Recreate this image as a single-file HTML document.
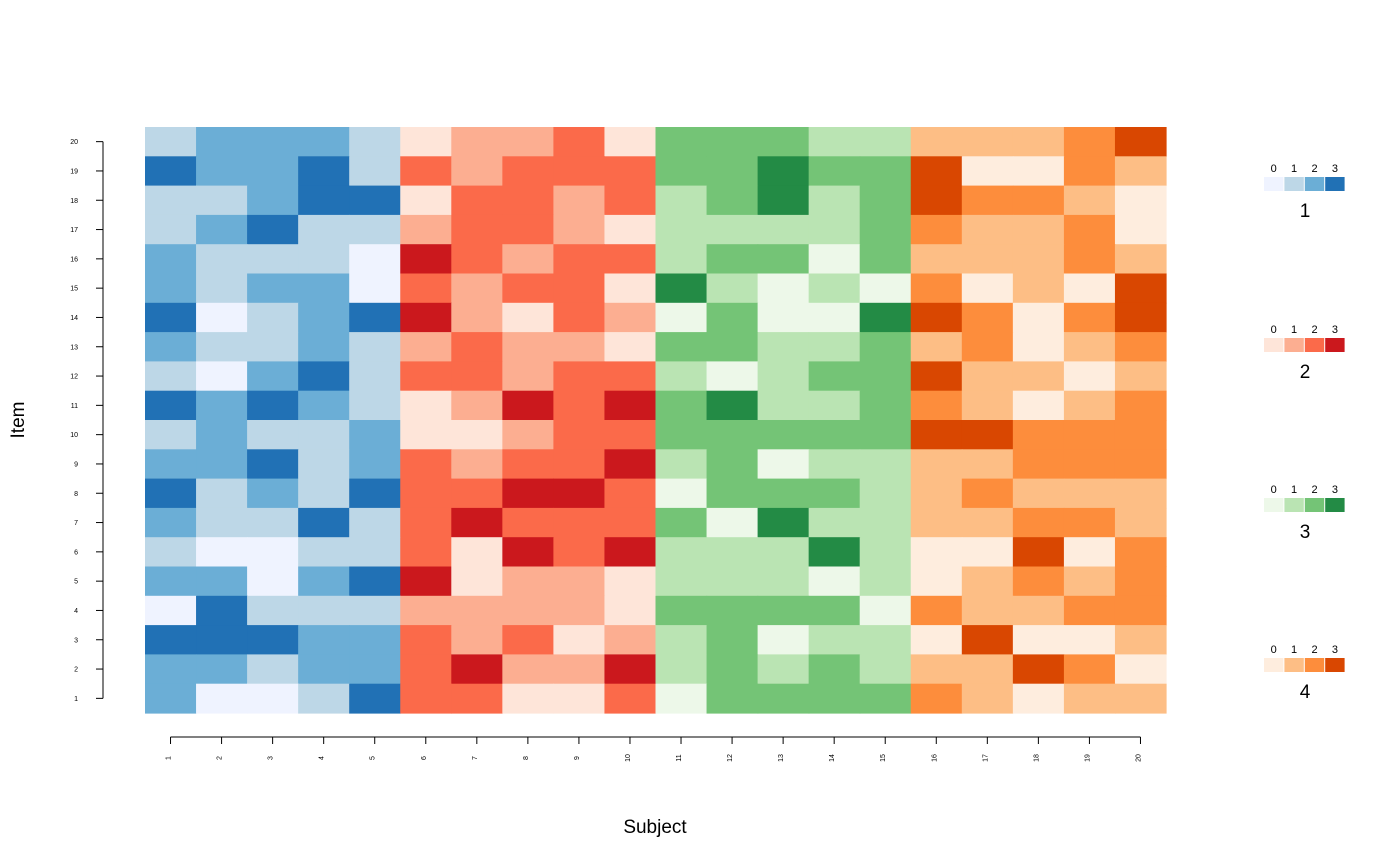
<!DOCTYPE html>
<html><head><meta charset="utf-8"><style>
body{margin:0;background:#fff}
svg{display:block;font-family:"Liberation Sans","DejaVu Sans",sans-serif}
</style></head><body>
<svg id="chart" width="1400" height="866">
<g id="cells"></g>
<g id="axes"></g>
<g id="legends"></g>
<text x="655" y="833" font-size="19" text-anchor="middle">Subject</text>
<text x="24" y="420" font-size="19" text-anchor="middle" transform="rotate(-90 24 420)">Item</text>
</svg>
<script>
const subjects=[1,2,3,4,5,6,7,8,9,10,11,12,13,14,15,16,17,18,19,20];
const items=[1,2,3,4,5,6,7,8,9,10,11,12,13,14,15,16,17,18,19,20];
const groupNames=["1","2","3","4"];
const levelLabels=["0","1","2","3"];
// rows listed from item 20 (top) down to item 1
const values=[
[1,2,2,2,1, 0,1,1,2,0, 2,2,2,1,1, 1,1,1,2,3],
[3,2,2,3,1, 2,1,2,2,2, 2,2,3,2,2, 3,0,0,2,1],
[1,1,2,3,3, 0,2,2,1,2, 1,2,3,1,2, 3,2,2,1,0],
[1,2,3,1,1, 1,2,2,1,0, 1,1,1,1,2, 2,1,1,2,0],
[2,1,1,1,0, 3,2,1,2,2, 1,2,2,0,2, 1,1,1,2,1],
[2,1,2,2,0, 2,1,2,2,0, 3,1,0,1,0, 2,0,1,0,3],
[3,0,1,2,3, 3,1,0,2,1, 0,2,0,0,3, 3,2,0,2,3],
[2,1,1,2,1, 1,2,1,1,0, 2,2,1,1,2, 1,2,0,1,2],
[1,0,2,3,1, 2,2,1,2,2, 1,0,1,2,2, 3,1,1,0,1],
[3,2,3,2,1, 0,1,3,2,3, 2,3,1,1,2, 2,1,0,1,2],
[1,2,1,1,2, 0,0,1,2,2, 2,2,2,2,2, 3,3,2,2,2],
[2,2,3,1,2, 2,1,2,2,3, 1,2,0,1,1, 1,1,2,2,2],
[3,1,2,1,3, 2,2,3,3,2, 0,2,2,2,1, 1,2,1,1,1],
[2,1,1,3,1, 2,3,2,2,2, 2,0,3,1,1, 1,1,2,2,1],
[1,0,0,1,1, 2,0,3,2,3, 1,1,1,3,1, 0,0,3,0,2],
[2,2,0,2,3, 3,0,1,1,0, 1,1,1,0,1, 0,1,2,1,2],
[0,3,1,1,1, 1,1,1,1,0, 2,2,2,2,0, 2,1,1,2,2],
[3,3,3,2,2, 2,1,2,0,1, 1,2,0,1,1, 0,3,0,0,1],
[2,2,1,2,2, 2,3,1,1,3, 1,2,1,2,1, 1,1,3,2,0],
[2,0,0,1,3, 2,2,0,0,2, 0,2,2,2,2, 2,1,0,1,1]
];
const palettes=[
["#eff3ff","#bdd7e7","#6baed6","#2171b5"],
["#fee5d9","#fcae91","#fb6a4a","#cb181d"],
["#edf8e9","#bae4b3","#74c476","#238b45"],
["#feedde","#fdbe85","#fd8d3c","#d94701"]];
const NS="http://www.w3.org/2000/svg";
const X0=145,X1=1166,Y0=127,Y1=713;
const cw=(X1-X0)/subjects.length, ch=(Y1-Y0)/items.length;
const xs=i=>X0+i*cw, ys=r=>Y0+r*ch;
function mk(t,a,p){const e=document.createElementNS(NS,t);for(const k in a)e.setAttribute(k,a[k]);p.appendChild(e);return e;}
const cells=document.getElementById('cells');
values.forEach((row,r)=>row.forEach((v,c)=>{
 const g=Math.floor(c/5);
 const e=mk('rect',{x:xs(c),y:ys(r),width:cw+0.6,height:ch+0.6,fill:palettes[g][v]},cells);
 
 
}));
const ax=document.getElementById('axes');
// y axis
mk('line',{x1:103,x2:103,y1:ys(0.5),y2:ys(items.length-0.5),stroke:'#000'},ax);
items.forEach((it,i)=>{
 const y=ys(items.length-1-i+0.5);
 mk('line',{x1:96,x2:103,y1:y,y2:y,stroke:'#000'},ax);
 const t=mk('text',{x:78,y:y+2.5,'font-size':7,'text-anchor':'end'},ax);t.textContent=it;
 
 
});
// x axis
mk('line',{x1:xs(0.5),x2:xs(subjects.length-0.5),y1:737,y2:737,stroke:'#000'},ax);
subjects.forEach((s,i)=>{
 const x=xs(i+0.5);
 mk('line',{x1:x,x2:x,y1:737,y2:744,stroke:'#000'},ax);
 const t=mk('text',{x:x+2,y:760,'font-size':7,'text-anchor':'middle',transform:`rotate(-90 ${x} 760)`},ax);t.textContent=s;
 
 
});
// legends
const lg=document.getElementById('legends');
const legY=[177,338,498,658];
groupNames.forEach((gname,g)=>{
 const gg=mk('g',{},lg);
 
 
 levelLabels.forEach((lab,k)=>{
  const x=1264+k*20.4;
  mk('rect',{x:x,y:legY[g],width:19.4,height:14,fill:palettes[g][k]},gg);
  const t=mk('text',{x:x+9.7,y:legY[g]-5,'font-size':11,'text-anchor':'middle'},gg);t.textContent=lab;
 });
 const t=mk('text',{x:1305,y:legY[g]+40,'font-size':19,'text-anchor':'middle'},gg);t.textContent=gname;
});
</script>
</body></html>
